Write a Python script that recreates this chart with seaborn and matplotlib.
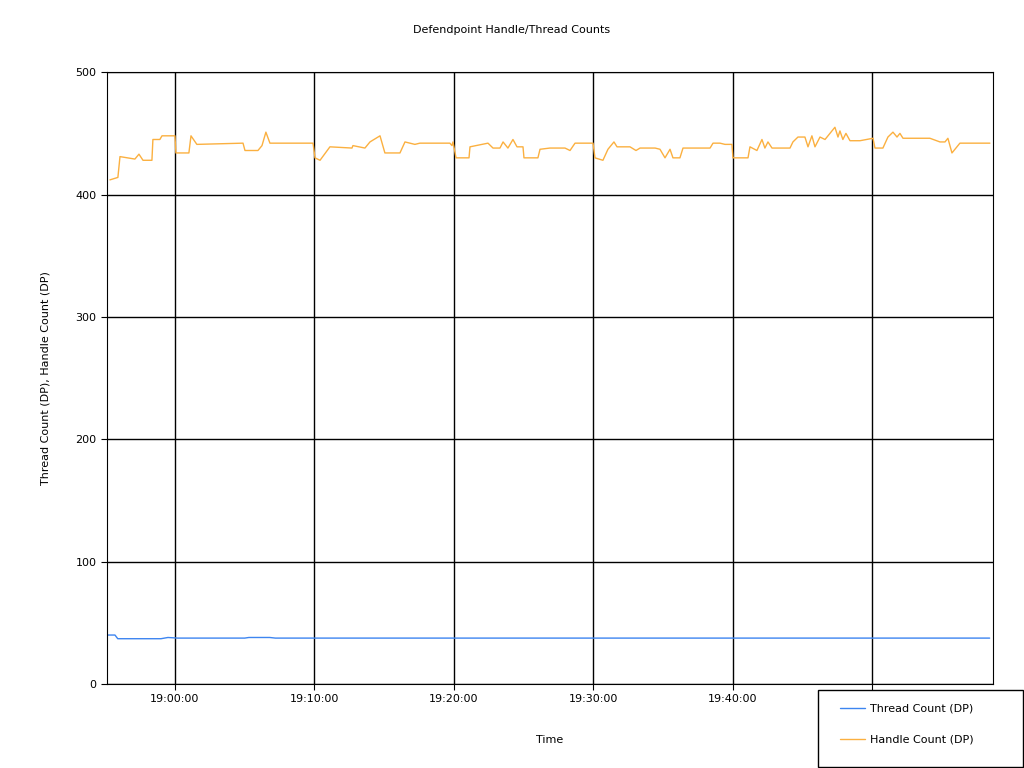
import pandas as pd
import matplotlib
matplotlib.use("Agg")
import matplotlib.pyplot as plt
import matplotlib.dates as mdates
from matplotlib.patches import Rectangle
import seaborn as sns

start = pd.Timestamp("2024-01-01 18:55:00")

# minutes after 18:55 and the handle count
handle_min = [0.34, 0.91, 1.06, 2.13, 2.42, 2.71, 3.35, 3.42, 3.92, 4.07, 5.0, 5.07, 6.0, 6.15,
              6.57, 9.88, 10.02, 10.95, 11.24, 11.52, 11.81, 14.9, 15.04, 15.4, 16.11, 17.69,
              17.76, 18.62, 18.98, 19.7, 20.05, 21.13, 21.49, 22.2, 22.56, 24.71, 24.86, 24.93,
              25.15, 26.08, 26.15, 27.44, 27.8, 28.3, 28.52, 28.87, 29.23, 29.52, 29.95, 30.02,
              31.02, 31.17, 31.88, 32.96, 33.32, 33.68, 34.03, 34.97, 35.11, 35.68, 36.04, 36.47,
              36.69, 37.62, 38.05, 38.34, 39.42, 39.77, 40.13, 40.49, 40.7, 41.2, 41.42, 41.92,
              43.36, 43.57, 44.07, 44.43, 44.93, 45.0, 46.08, 46.22, 46.72, 47.08, 47.29, 47.51,
              47.8, 49.09, 49.3, 49.66, 50.16, 50.38, 50.66, 50.88, 51.24, 51.6, 52.31, 52.53,
              52.67, 52.88, 53.1, 53.39, 54.11, 55.04, 55.18, 55.75, 56.11, 56.47, 56.76, 56.97,
              57.19, 57.69, 59.12, 59.84, 60.2, 60.41, 60.7, 61.27, 61.98, 63.42]
handle_val = [412, 414, 431, 429, 433, 428, 428, 445, 445, 448, 448, 434, 434, 448,
              441, 442, 436, 436, 440, 451, 442, 442, 430, 428, 439, 438,
              440, 438, 443, 448, 434, 434, 443, 441, 442, 442, 440, 443,
              430, 430, 439, 442, 438, 438, 443, 438, 445, 439, 439, 430,
              430, 437, 438, 438, 436, 442, 442, 442, 430, 428, 437, 443,
              439, 439, 436, 438, 438, 437, 430, 437, 430, 430, 438, 438,
              438, 442, 442, 441, 441, 430, 430, 439, 436, 445, 438, 443,
              438, 438, 443, 447, 447, 439, 448, 439, 447, 445, 455, 447,
              452, 445, 450, 444, 444, 446, 438, 438, 447, 451, 447, 450,
              446, 446, 446, 443, 443, 446, 434, 442, 442, 442]

thread_min = [0.2, 0.7, 0.9, 4.0, 4.5, 5.2, 10.0, 10.3, 11.8, 12.2, 20.0, 63.4]
thread_val = [40, 40, 37, 37, 38, 37.5, 37.5, 38, 38, 37.5, 37.5, 37.5]

df = pd.concat([
    pd.DataFrame({"Time": start + pd.to_timedelta(thread_min, unit="m"),
                  "Count": thread_val, "Series": "Thread Count (DP)"}),
    pd.DataFrame({"Time": start + pd.to_timedelta(handle_min, unit="m"),
                  "Count": handle_val, "Series": "Handle Count (DP)"}),
])

sns.set_style("white")
plt.rcParams["font.family"] = ["DejaVu Sans"]
plt.rcParams["text.color"] = "black"
fig = plt.figure(figsize=(10.24, 7.68), dpi=100)
ax = fig.add_axes([0.1045, 0.1094, 0.8652, 0.7966])
sns.lineplot(data=df, x="Time", y="Count", hue="Series",
             palette=["#3d85f0", "#fbb040"], linewidth=1, ax=ax, legend=False)

ax.set_xlim(start + pd.Timedelta(minutes=0.13), start + pd.Timedelta(minutes=63.64))
ax.set_ylim(0, 500)
ax.set_yticks([0, 100, 200, 300, 400, 500])
ax.xaxis.set_major_locator(mdates.MinuteLocator(byminute=[0, 10, 20, 30, 40, 50]))
ax.xaxis.set_major_formatter(mdates.DateFormatter("%H:%M:%S"))
ax.grid(True, color="black", linewidth=1)
for s in ax.spines.values():
    s.set_color("black")
ax.tick_params(labelsize=8, length=4, color="black", labelcolor="black",
               direction="out", bottom=True, left=True)
ax.set_xlabel("Time", fontsize=8, color="black", labelpad=22)
ax.set_ylabel("Thread Count (DP), Handle Count (DP)", fontsize=8, color="black", labelpad=18)
fig.text(0.5, 0.957, "Defendpoint Handle/Thread Counts", ha="center", fontsize=8, color="black")

# legend box sits over the bottom right corner, covering the last tick label
box = Rectangle((818 / 1024, 1 / 768), 205 / 1024, 77 / 768, transform=fig.transFigure,
                facecolor="white", edgecolor="black", linewidth=1, zorder=20)
fig.patches.append(box)
lines = ax.get_lines()
leg = fig.legend(lines[:2], ["Thread Count (DP)", "Handle Count (DP)"],
                 loc="upper left", bbox_to_anchor=(836 / 1024, 1 - 699 / 768),
                 bbox_transform=fig.transFigure, fontsize=8, frameon=False,
                 labelspacing=1.9, handlelength=2.2, handletextpad=0.5, borderaxespad=0)
leg.set_zorder(21)
fig.savefig("out.png", dpi=100)
